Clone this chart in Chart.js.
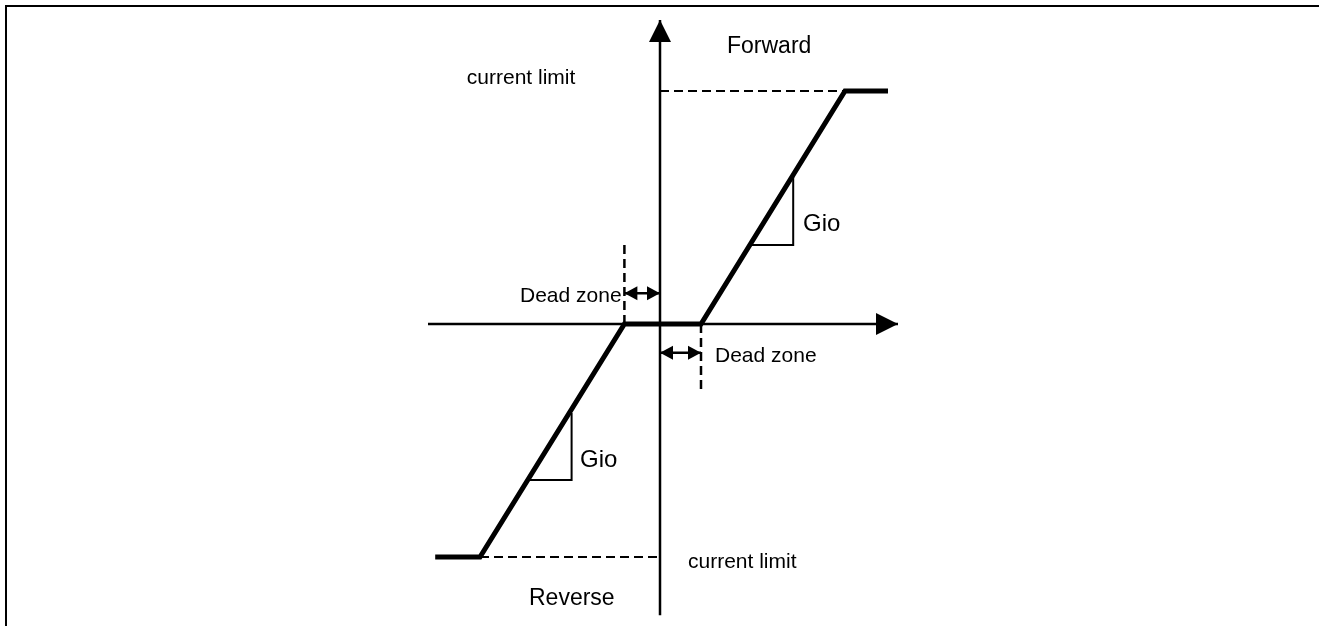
<!DOCTYPE html>
<html>
<head>
<meta charset="utf-8">
<script src="https://cdn.jsdelivr.net/npm/chart.js@4"></script>
<style>
  html, body { margin: 0; padding: 0; background: #fff; }
  #wrap { position: relative; width: 1319px; height: 626px; overflow: hidden; }
  #frame { position: absolute; left: 5px; top: 5px; right: 0; bottom: 0;
           border-top: 2px solid #000; border-left: 2px solid #000; pointer-events: none; }
  canvas { position: absolute; left: 0; top: 0; }
</style>
</head>
<body>
<div id="wrap">
  <canvas id="chart" width="1319" height="626"></canvas>
  <div id="frame"></div>
</div>
<script>
// input (x) vs output current (y); current limit = +/-1
const curveX = [-5.62, -4.5, -0.89, 1.025, 4.625, 5.7];
const curveY = [-1, -1, 0, 0, 1, 1];

const xAxisX = [-5.8, 5.95];
const xAxisY = [0, 0];
const yAxisX = [0, 0];
const yAxisY = [-1.25, 1.305];

const limitTopX = [0, 4.625];
const limitTopY = [1, 1];
const limitBotX = [-4.5, 0];
const limitBotY = [-1, -1];

const deadLeftX = [-0.89, -0.89];
const deadLeftY = [0, 0.346];
const deadRightX = [1.025, 1.025];
const deadRightY = [0, -0.29];

const deadArrowLeftX = [-0.89, 0];
const deadArrowLeftY = [0.132, 0.132];
const deadArrowRightX = [0, 1.025];
const deadArrowRightY = [-0.123, -0.123];

const gioUpperX = [3.33, 3.33, 2.245];
const gioUpperY = [0.64, 0.339, 0.339];
const gioLowerX = [-2.21, -2.21, -3.31];
const gioLowerY = [-0.382, -0.67, -0.67];

const labelText = ['Forward', 'current limit', 'Dead zone', 'Dead zone', 'Gio', 'Gio', 'current limit', 'Reverse'];
const labelX = [1.675, -4.83, -3.5, 1.375, 3.575, -2.0, 0.7, -3.275];
const labelY = [1.164, 1.029, 0.096, -0.164, 0.399, -0.612, -1.049, -1.206];
const labelSize = [23, 21, 21, 21, 24, 24, 21, 23];

function pts(xs, ys) {
    return xs.map((x, i) => ({ x: x, y: ys[i] }));
}

function seg(xs, ys, width, dash, arrows) {
    return {
        data: pts(xs, ys),
        showLine: true,
        borderColor: '#000',
        backgroundColor: '#000',
        borderWidth: width,
        borderDash: dash || [],
        pointRadius: 0,
        tension: 0,
        fill: false,
        arrows: arrows || null,
        borderCapStyle: 'butt',
        borderJoinStyle: 'miter'
    };
}

function drawHead(ctx, tip, from, len, half) {
    const a = Math.atan2(tip.y - from.y, tip.x - from.x);
    ctx.save();
    ctx.translate(tip.x, tip.y);
    ctx.rotate(a);
    ctx.beginPath();
    ctx.moveTo(0, 0);
    ctx.lineTo(-len, -half);
    ctx.lineTo(-len, half);
    ctx.closePath();
    ctx.fillStyle = '#000';
    ctx.fill();
    ctx.restore();
}

const arrowPlugin = {
    id: 'arrowsAndLabels',
    afterDatasetsDraw(chart) {
        const ctx = chart.ctx;
        chart.data.datasets.forEach((ds, i) => {
            if (!ds.arrows) return;
            const p = chart.getDatasetMeta(i).data;
            const a = p[0], b = p[p.length - 1];
            const s = ds.arrows.size;
            drawHead(ctx, { x: b.x, y: b.y }, { x: a.x, y: a.y }, s[0], s[1]);
            if (ds.arrows.both) drawHead(ctx, { x: a.x, y: a.y }, { x: b.x, y: b.y }, s[0], s[1]);
        });
        const xs = chart.scales.x, ys = chart.scales.y;
        ctx.save();
        ctx.fillStyle = '#000';
        ctx.textAlign = 'left';
        ctx.textBaseline = 'alphabetic';
        labelText.forEach((t, i) => {
            ctx.font = labelSize[i] + 'px "Liberation Sans", Arial, sans-serif';
            ctx.fillText(t, xs.getPixelForValue(labelX[i]), ys.getPixelForValue(labelY[i]));
        });
        ctx.restore();
    }
};

new Chart(document.getElementById('chart').getContext('2d'), {
    type: 'scatter',
    data: {
        datasets: [
            seg(limitTopX, limitTopY, 2, [9, 5]),
            seg(limitBotX, limitBotY, 2, [9, 5]),
            seg(deadLeftX, deadLeftY, 2.5, [9, 5]),
            seg(deadRightX, deadRightY, 2.5, [9, 5]),
            seg(xAxisX, xAxisY, 2.5, null, { size: [22, 11] }),
            seg(yAxisX, yAxisY, 2.5, null, { size: [22, 11] }),
            seg(deadArrowLeftX, deadArrowLeftY, 2.5, null, { size: [13, 7], both: true }),
            seg(deadArrowRightX, deadArrowRightY, 2.5, null, { size: [13, 7], both: true }),
            seg(gioUpperX, gioUpperY, 2),
            seg(gioLowerX, gioLowerY, 2),
            seg(curveX, curveY, 5)
        ]
    },
    options: {
        responsive: false,
        animation: false,
        devicePixelRatio: 1,
        layout: { padding: 0, autoPadding: false },
        plugins: {
            legend: { display: false },
            tooltip: { enabled: false },
            title: { display: false }
        },
        scales: {
            x: { type: 'linear', min: -16.5, max: 16.475, display: false },
            y: { type: 'linear', min: -1.2961, max: 1.3906, display: false }
        }
    },
    plugins: [arrowPlugin]
});
</script>
</body>
</html>
